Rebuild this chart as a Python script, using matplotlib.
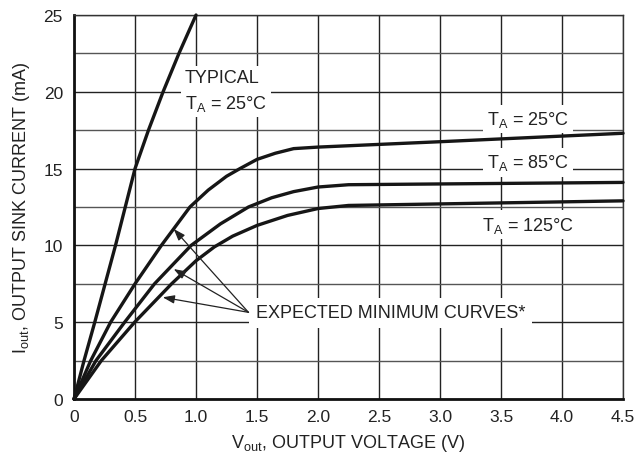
import matplotlib
matplotlib.use('Agg')
import matplotlib.pyplot as plt

plt.rcParams['font.family'] = ['Liberation Sans Narrow', 'Liberation Sans', 'DejaVu Sans']
plt.rcParams['mathtext.default'] = 'regular'

# curves (V, mA)
v_typ = [0, 0.082, 0.17, 0.255, 0.34, 0.42, 0.5, 0.61, 0.73, 0.86, 1.0]
i_typ = [0, 2.5, 5, 7.5, 10, 12.5, 15, 17.5, 20, 22.5, 25]

v_25 = [0, 0.137, 0.30, 0.50, 0.716, 0.95, 1.1, 1.25, 1.36, 1.5, 1.65, 1.8, 2.0, 3.0, 4.5]
i_25 = [0, 2.5, 5, 7.5, 10, 12.5, 13.6, 14.5, 15.0, 15.6, 16.0, 16.3, 16.4, 16.75, 17.3]

v_85 = [0, 0.18, 0.415, 0.66, 0.96, 1.2, 1.43, 1.62, 1.8, 2.0, 2.25, 4.5]
i_85 = [0, 2.5, 5, 7.5, 10, 11.4, 12.5, 13.1, 13.5, 13.8, 13.95, 14.1]

v_125 = [0, 0.224, 0.497, 0.80, 1.0, 1.15, 1.3, 1.5, 1.75, 2.0, 2.25, 4.5]
i_125 = [0, 2.5, 5, 7.5, 9.0, 9.9, 10.6, 11.3, 11.95, 12.4, 12.6, 12.9]

x_ticks = [0, 0.5, 1.0, 1.5, 2.0, 2.5, 3.0, 3.5, 4.0, 4.5]
x_labels = ['0', '0.5', '1.0', '1.5', '2.0', '2.5', '3.0', '3.5', '4.0', '4.5']
y_ticks = [0, 5, 10, 15, 20, 25]
y_minor = [2.5, 7.5, 12.5, 17.5, 22.5]

fig = plt.figure(figsize=(6.36, 4.64), dpi=100)
ax = fig.add_axes([0.1164, 0.138, 0.8632, 0.8275])

ax.set_xlim(0, 4.5)
ax.set_ylim(0, 25)
ax.set_xticks(x_ticks)
ax.set_xticklabels(x_labels)
ax.set_yticks(y_ticks)
ax.set_yticks(y_minor, minor=True)
ax.tick_params(which='both', length=0, labelsize=12.5, colors='#222222')
ax.tick_params(axis='x', pad=7)
ax.tick_params(axis='y', pad=8)

ax.grid(True, which='major', color='#222222', linewidth=1.0)
ax.grid(True, which='minor', axis='y', color='#555555', linewidth=1.0)
ax.set_axisbelow(True)
for s in ['top', 'right']:
    ax.spines[s].set_linewidth(1.0)
    ax.spines[s].set_color('#333333')
for s in ['bottom', 'left']:
    ax.spines[s].set_linewidth(2.0)
    ax.spines[s].set_color('#111111')

lw = 2.4
for v, i in [(v_typ, i_typ), (v_25, i_25), (v_85, i_85), (v_125, i_125)]:
    ax.plot(v, i, color='#161616', linewidth=lw, solid_joinstyle='round',
            solid_capstyle='round', zorder=3, clip_on=False)

box = dict(facecolor='white', edgecolor='none', pad=3)
txt = dict(fontsize=13, color='#222222', zorder=4)

ax.text(0.91, 20.05, 'TYPICAL\nT$_A$ = 25$\\degree$C', ha='left', va='center',
        linespacing=1.5, bbox=box, **txt)
ax.text(3.72, 18.25, 'T$_A$ = 25$\\degree$C', ha='center', va='center', bbox=box, **txt)
ax.text(3.72, 15.4, 'T$_A$ = 85$\\degree$C', ha='center', va='center', bbox=box, **txt)
ax.text(3.72, 11.35, 'T$_A$ = 125$\\degree$C', ha='center', va='center', bbox=box, **txt)

ax.text(1.49, 5.6, 'EXPECTED MINIMUM CURVES*', ha='left', va='center',
        bbox=dict(facecolor='white', edgecolor='none', pad=5), **txt)

tail = (1.43, 5.64)
tips = [(0.817, 11.07), (0.817, 8.46), (0.727, 6.62)]
for tip in tips:
    ax.annotate('', xy=tip, xytext=tail, zorder=5,
                arrowprops=dict(arrowstyle='-|>,head_length=0.7,head_width=0.25',
                                color='#222222', linewidth=0.9,
                                shrinkA=0, shrinkB=0))

ax.set_xlabel('V$_{out}$, OUTPUT VOLTAGE (V)', fontsize=13, color='#222222', labelpad=6)
ax.set_ylabel('I$_{out}$, OUTPUT SINK CURRENT (mA)', fontsize=13, color='#222222', labelpad=8)

fig.savefig('out.png', dpi=100)
